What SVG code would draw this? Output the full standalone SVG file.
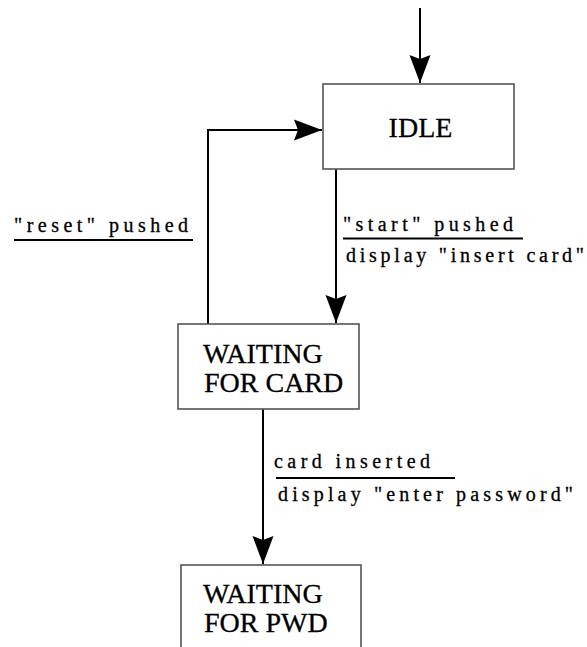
<svg xmlns="http://www.w3.org/2000/svg" width="587" height="647" viewBox="0 0 587 647">
<style>
.box{fill:#fff;stroke:#555;stroke-width:1.6}
.st{font-family:'Liberation Serif','Times New Roman',serif;font-size:28px;fill:#000;stroke:#000;stroke-width:0.3}
.lbl{font-family:'Liberation Serif','Times New Roman',serif;font-size:20px;fill:#000;stroke:#000;stroke-width:0.3}
.edge{fill:none;stroke:#000;stroke-width:2}
.ul{stroke:#000;stroke-width:2}
</style>
<defs>
<marker id="ah" markerUnits="userSpaceOnUse" markerWidth="32" markerHeight="24" viewBox="-30 -12 32 24" refX="0" refY="0" orient="auto">
<path d="M0,0 L-28,-10.5 L-24,0 L-28,10.5 Z" fill="#000"/>
</marker>
</defs>
<rect width="587" height="647" fill="#fff"/>
<g id="connectors">
<path class="edge" d="M420,8 L420,83" marker-end="url(#ah)"/>
<path class="edge" d="M336,169 L336,323" marker-end="url(#ah)"/>
<path class="edge" d="M208,324 L208,130 L322,130" marker-end="url(#ah)"/>
<path class="edge" d="M263,409 L263,564" marker-end="url(#ah)"/>
</g>
<g id="idle">
<rect class="box" x="323" y="84" width="191" height="85"/>
<text class="st" x="420.5" y="137" text-anchor="middle">IDLE</text>
</g>
<g id="waiting-card">
<rect class="box" x="178" y="324" width="181" height="85"/>
<text class="st" x="203" y="363">WAITING</text>
<text class="st" x="204" y="392">FOR CARD</text>
</g>
<g id="waiting-pwd">
<rect class="box" x="181" y="565" width="180" height="100"/>
<text class="st" x="203" y="603">WAITING</text>
<text class="st" x="204" y="632">FOR PWD</text>
</g>
<g id="labels">
<text class="lbl" x="14" y="232" textLength="174" lengthAdjust="spacing">"reset" pushed</text>
<line class="ul" x1="14" y1="240" x2="193" y2="240"/>
<text class="lbl" x="343" y="231" textLength="170" lengthAdjust="spacing">"start" pushed</text>
<line class="ul" x1="343" y1="238.5" x2="523" y2="238.5"/>
<text class="lbl" x="346" y="262" textLength="238" lengthAdjust="spacing">display "insert card"</text>
<text class="lbl" x="274" y="468" textLength="156" lengthAdjust="spacing">card inserted</text>
<line class="ul" x1="276" y1="478" x2="455" y2="478"/>
<text class="lbl" x="278" y="501" textLength="295" lengthAdjust="spacing">display "enter password"</text>
</g>
</svg>
